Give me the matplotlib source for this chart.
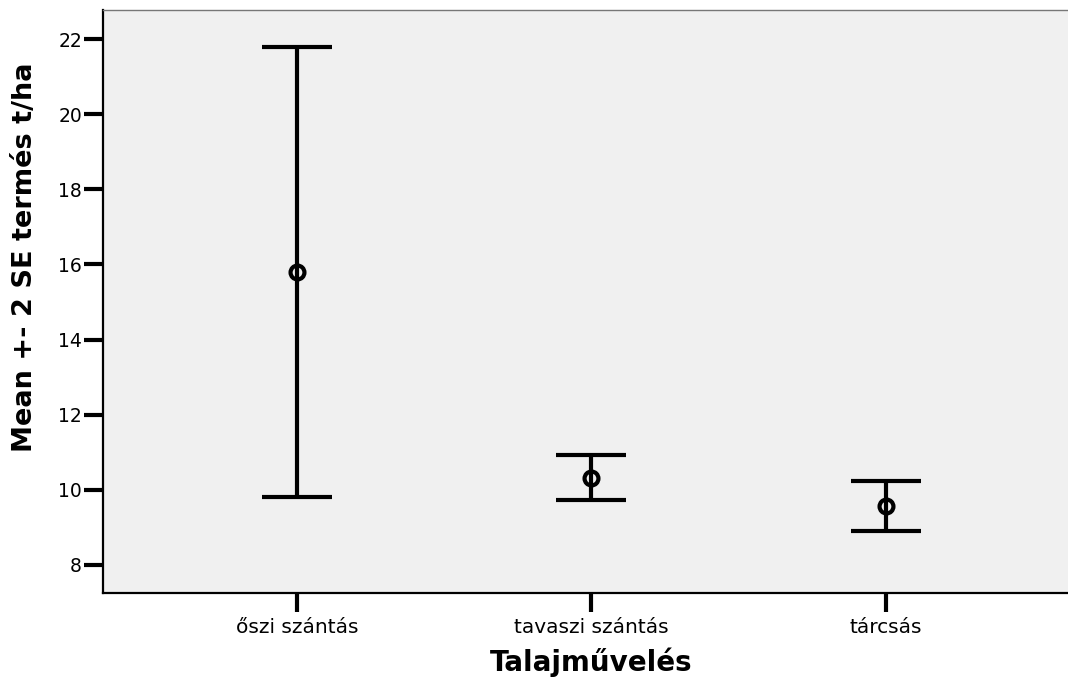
#!/usr/bin/env python3
"""Error bar chart: mean +- 2 SE of yield by tillage method."""

import matplotlib
matplotlib.use('Agg')
import matplotlib.pyplot as plt
import numpy as np

categories = ['őszi szántás', 'tavaszi szántás', 'tárcsás']
means = [15.79, 10.31, 9.57]
upper = [21.79, 10.93, 10.24]
lower = [9.80, 9.73, 8.90]
yticks = [8, 10, 12, 14, 16, 18, 20, 22]

fig = plt.figure(figsize=(10.68, 6.77), dpi=100)
ax = fig.add_axes([0.0964, 0.124, 0.9036, 0.861])
ax.set_facecolor('#F0F0F0')

x = np.arange(len(categories))
means = np.array(means)
yerr = [means - np.array(lower), np.array(upper) - means]

ax.errorbar(x, means, yerr=yerr, fmt='none', ecolor='black',
            elinewidth=3, capsize=25, capthick=3, zorder=2)
ax.plot(x, means, 'o', markersize=10, markerfacecolor='none',
        markeredgecolor='black', markeredgewidth=3, zorder=3)

ax.set_xlim(-0.66, 2.62)
ax.set_ylim(7.25, 22.77)
ax.set_xticks(x)
ax.set_xticklabels(categories, fontsize=14.5)
ax.set_yticks(yticks)
ax.set_yticklabels([str(t) for t in yticks], fontsize=13.5)
ax.tick_params(axis='both', direction='out', length=14, width=3, color='black')
ax.tick_params(axis='y', pad=1)
ax.tick_params(axis='x', pad=4)

for s in ['left', 'bottom']:
    ax.spines[s].set_linewidth(1.6)
    ax.spines[s].set_color('black')
ax.spines['top'].set_color('#777777')
ax.spines['top'].set_linewidth(1)
ax.spines['right'].set_visible(False)

ax.set_xlabel('Talajművelés', fontsize=20, fontweight='bold')
ax.set_ylabel('Mean +- 2 SE termés t/ha', fontsize=19.5, fontweight='bold')
ax.xaxis.set_label_coords(0.506, -0.094)
ax.yaxis.set_label_coords(-0.067, 0.576)

fig.savefig('out.png', dpi=100)
plt.close(fig)
